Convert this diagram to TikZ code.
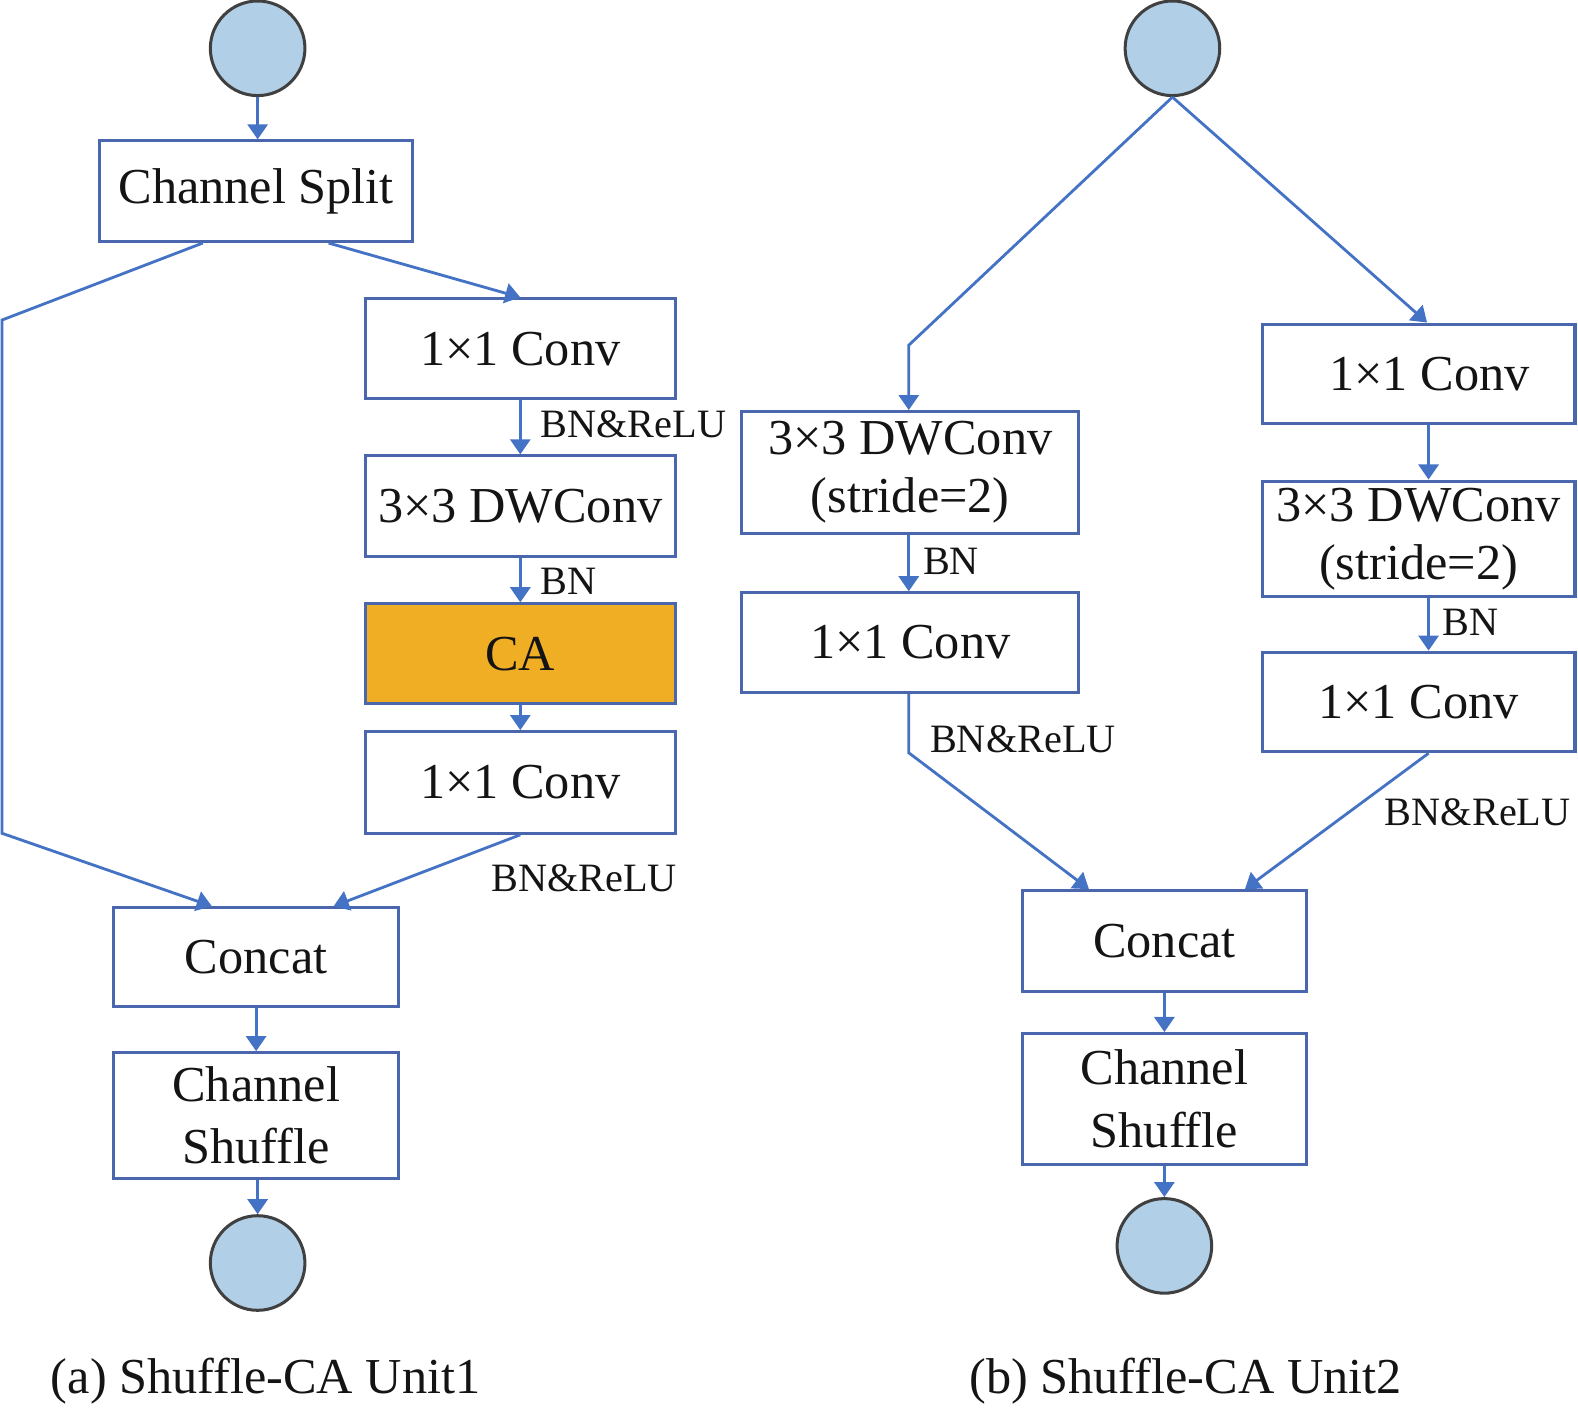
\documentclass[tikz,border=0pt]{standalone}
\usepackage{fontspec}
\setmainfont{Liberation Serif}
\usetikzlibrary{arrows.meta,calc}
\definecolor{lineblue}{HTML}{4472C4}
\definecolor{boxblue}{HTML}{4A66AC}
\definecolor{cafill}{HTML}{F0AE24}
\definecolor{circfill}{HTML}{B1CFE6}
\definecolor{circline}{HTML}{404040}
\definecolor{txt}{HTML}{141414}
\begin{document}
\begin{tikzpicture}[x=1pt,y=-1pt,
  box/.style={draw=boxblue,line width=3pt,fill=white,inner sep=0pt,align=center,text=txt,
    font=\fontsize{50}{58}\selectfont},
  io/.style={circle,draw=circline,fill=circfill,line width=3pt,minimum size=94pt,inner sep=0pt},
  conn/.style={draw=lineblue,line width=2.8pt},
  arr/.style={conn,-{Triangle[width=20pt,length=15pt]}},
  lab/.style={anchor=west,inner sep=0pt,text=txt,font=\fontsize{40}{46}\selectfont},
  captext/.style={inner sep=0pt,text=txt,font=\fontsize{50}{58}\selectfont}]
\useasboundingbox (0,0) rectangle (1568,1404);
% ---------- (a) ----------
\node[io] (c1) at (256,48) {};
\node[box,minimum width=311pt,minimum height=100pt] (cs) at (254.5,190) {Channel Split};
\node[box,minimum width=308pt,minimum height=99pt] (conv1) at (517,346.5) {1×1 Conv};
\node[box,minimum width=308pt,minimum height=100pt] (dw1) at (517,503) {3×3 DWConv};
\node[box,fill=cafill,minimum width=308pt,minimum height=99pt] (ca) at (517,649.5) {CA};
\node[box,minimum width=308pt,minimum height=101pt] (conv2) at (517,777.5) {1×1 Conv};
\node[box,minimum width=283pt,minimum height=98pt] (cat1) at (254.5,951) {Concat};
\node[box,minimum width=283pt,minimum height=125pt,font=\fontsize{50}{62}\selectfont] (sh1) at (254.5,1108.5) {Channel\\Shuffle};
\node[io] (c2) at (256,1255) {};
\coordinate (la) at (2,318);
\coordinate (lb) at (2,828);
\draw[arr] (c1.south) -- (c1.south |- cs.north);
\draw[arr] ([xshift=104pt]cs.south west) -- (la) -- (lb) -- ([xshift=99pt]cat1.north west);
\draw[arr] ([xshift=-85pt]cs.south east) -- (conv1.north);
\draw[arr] (conv1) -- (dw1);
\draw[arr] (dw1) -- (ca);
\draw[arr] (ca) -- (conv2);
\draw[arr] (conv2.south) -- ([xshift=-66pt]cat1.north east);
\draw[arr] (cat1) -- (sh1);
\draw[arr] (sh1.south -| c2) -- (c2.north);
\node[lab] (l1) at (537,422) {BN\&ReLU};
\node[lab] (l2) at (537,578) {BN};
\node[lab] (l3) at (488,873) {BN\&ReLU};
\node[captext] (capa) at (264,1372) {(a) Shuffle-CA Unit1};
% ---------- (b) ----------
\node[io] (c3) at (1165,48) {};
\node[box,minimum width=335pt,minimum height=121pt] (dwA) at (904.5,469.5) {3×3 DWConv\\(stride=2)};
\node[box,minimum width=335pt,minimum height=99pt] (convA) at (904.5,638.5) {1×1 Conv};
\node[box,minimum width=311pt,minimum height=99pt] (convB) at (1409.5,371.5) {\hspace*{22pt}1×1 Conv};
\node[box,minimum width=311pt,minimum height=115pt] (dwB) at (1409.5,535.5) {3×3 DWConv\\(stride=2)};
\node[box,minimum width=311pt,minimum height=99pt] (convC) at (1409.5,697.5) {1×1 Conv};
\node[box,minimum width=282pt,minimum height=100pt] (cat2) at (1157,935) {Concat};
\node[box,minimum width=282pt,minimum height=130pt,font=\fontsize{50}{62}\selectfont] (sh2) at (1157,1092) {Channel\\Shuffle};
\node[io] (c4) at (1157,1238) {};
\coordinate (ba) at (903,343);
\coordinate (bb) at (903,748);
\draw[arr] (c3.south) -- (ba) -- (ba |- dwA.north);
\draw[arr] (c3.south) -- ([xshift=8.5pt]convB.north);
\draw[arr] (ba |- dwA.south) -- (ba |- convA.north);
\draw[arr] (ba |- convA.south) -- (bb) -- ([xshift=-75pt]cat2.north);
\draw[arr] ([xshift=10pt]convB.south) -- ([xshift=10pt]dwB.north);
\draw[arr] ([xshift=10pt]dwB.south) -- ([xshift=10pt]convC.north);
\draw[arr] ([xshift=10pt]convC.south) -- ([xshift=80pt]cat2.north);
\draw[arr] (cat2) -- (sh2);
\draw[arr] (sh2.south) -- (c4.north);
\node[lab] (l4) at (917,558) {BN};
\node[lab] (l5) at (924,735) {BN\&ReLU};
\node[lab] (l6) at (1433,618) {BN};
\node[lab] (l7) at (1376,807) {BN\&ReLU};
\node[captext] (capb) at (1178,1372) {(b) Shuffle-CA Unit2};
\end{tikzpicture}
\end{document}
